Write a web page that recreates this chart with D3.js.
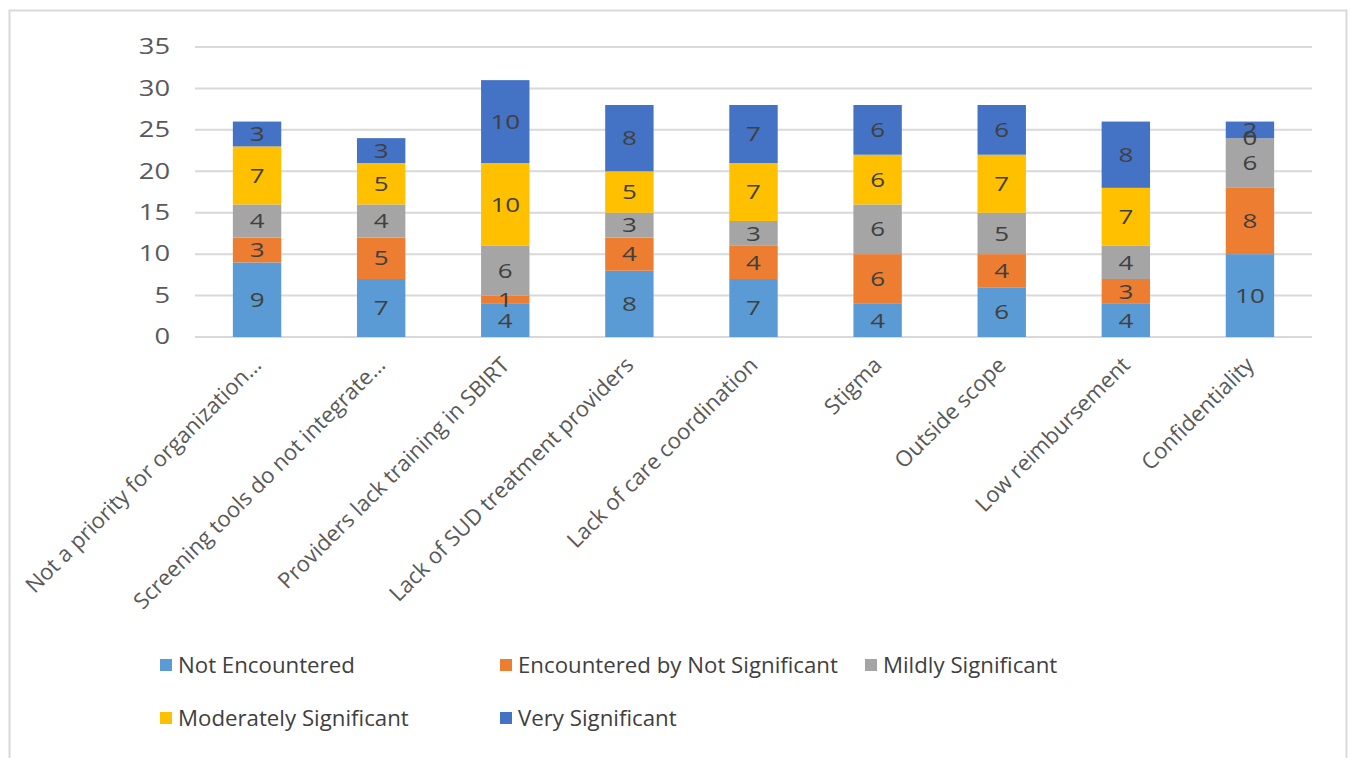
<!DOCTYPE html>
<html>
<head>
<meta charset="utf-8">
<script src="https://cdn.jsdelivr.net/npm/d3@7"></script>
<style>
  html, body { margin: 0; padding: 0; background: #fff; }
  svg { display: block; }
  text { font-family: "Open Sans", "Noto Sans", sans-serif; fill: #595959; }
</style>
</head>
<body>
<svg id="chart" width="1350" height="758"></svg>
<script>
// Barriers to SBIRT implementation, counts per significance level
const categories = [
  "Not a priority for organization\u2026",
  "Screening tools do not integrate\u2026",
  "Providers lack training in SBIRT",
  "Lack of SUD treatment providers",
  "Lack of care coordination",
  "Stigma",
  "Outside scope",
  "Low reimbursement",
  "Confidentiality"
];
const seriesNames = [
  "Not Encountered",
  "Encountered by Not Significant",
  "Mildly Significant",
  "Moderately Significant",
  "Very Significant"
];
const notEncountered       = [9, 7, 4, 8, 7, 4, 6, 4, 10];
const encounteredNotSig    = [3, 5, 1, 4, 4, 6, 4, 3, 8];
const mildlySignificant    = [4, 4, 6, 3, 3, 6, 5, 4, 6];
const moderatelySignificant= [7, 5, 10, 5, 7, 6, 7, 7, 0];
const verySignificant      = [3, 3, 10, 8, 7, 6, 6, 8, 2];
const yTicks = [0, 5, 10, 15, 20, 25, 30, 35];
const colors = ["#5B9BD5", "#ED7D31", "#A5A5A5", "#FFC000", "#4472C4"];

const seriesValues = [notEncountered, encounteredNotSig, mildlySignificant, moderatelySignificant, verySignificant];
const rows = categories.map((c, i) => {
  const r = { category: c };
  seriesNames.forEach((s, k) => { r[s] = seriesValues[k][i]; });
  return r;
});

const svg = d3.select("#chart");

// outer chart frame
svg.append("rect")
  .attr("x", 9.5).attr("y", 10.5)
  .attr("width", 1337).attr("height", 760)
  .attr("fill", "#fff").attr("stroke", "#d9d9d9").attr("stroke-width", 2);

const plot = { left: 195, right: 1312, top: 47, bottom: 337 };

const x = d3.scaleBand().domain(categories).range([plot.left, plot.right]).paddingInner(0.61).paddingOuter(0.305);
const y = d3.scaleLinear().domain([0, 35]).range([plot.bottom, plot.top]);

// gridlines
svg.append("g")
  .selectAll("line").data(yTicks).join("line")
  .attr("x1", plot.left).attr("x2", plot.right)
  .attr("y1", d => y(d)).attr("y2", d => y(d))
  .attr("stroke", "#d9d9d9").attr("stroke-width", 2);

// y axis labels (wide digits)
const yAxis = d3.axisLeft(y).tickValues(yTicks).tickSize(0).tickPadding(0);
const yg = svg.append("g").attr("transform", `translate(${plot.left - 25},0)`).call(yAxis);
yg.select(".domain").remove();
yg.selectAll(".tick text")
  .attr("x", 0)
  .attr("font-size", 21).attr("fill", "#595959")
  .style("font-family", "'Open Sans', sans-serif")
  .attr("transform", "scale(1.3,1)");

const stack = d3.stack().keys(seriesNames);
const stacked = stack(rows);

const layers = svg.append("g").selectAll("g").data(stacked).join("g")
  .attr("fill", (d, i) => colors[i]);

layers.selectAll("rect").data(d => d).join("rect")
  .attr("x", d => x(d.data.category))
  .attr("width", x.bandwidth())
  .attr("y", d => y(d[1]))
  .attr("height", d => y(d[0]) - y(d[1]));

// value labels centred in each segment
const labelG = svg.append("g");
stacked.forEach((layer) => {
  labelG.selectAll(null).data(layer).join("text")
    .attr("transform", d => `translate(${x(d.data.category) + x.bandwidth() / 2},${(y(d[0]) + y(d[1])) / 2}) scale(1.3,1)`)
    .attr("dy", "0.36em")
    .attr("text-anchor", "middle")
    .attr("font-size", 20)
    .style("fill", "#404040")
    .text(d => d.data[layer.key]);
});

// x axis category labels, rotated
const xAxis = d3.axisBottom(x).tickSize(0).tickPadding(0);
const xg = svg.append("g").attr("transform", `translate(0,${plot.bottom})`).call(xAxis);
xg.select(".domain").remove();
xg.selectAll("text")
  .attr("font-size", 22)
  .attr("fill", "#595959")
  .style("font-family", "'Open Sans', sans-serif")
  .attr("text-anchor", "end")
  .attr("dy", "0.35em")
  .attr("y", 0)
  .attr("transform", "translate(0,24) rotate(-45)");

// legend
const legendPos = [
  { x: 160, y: 665 }, { x: 500, y: 665 }, { x: 865, y: 665 },
  { x: 160, y: 718 }, { x: 500, y: 718 }
];
const legend = svg.append("g").selectAll("g").data(seriesNames).join("g")
  .attr("transform", (d, i) => `translate(${legendPos[i].x},${legendPos[i].y})`);
legend.append("rect").attr("x", 0).attr("y", -6).attr("width", 12).attr("height", 12)
  .attr("fill", (d, i) => colors[i]);
legend.append("text")
  .attr("transform", "translate(18,0) scale(1.06,1)")
  .attr("dy", "0.36em")
  .attr("font-size", 21).style("fill", "#404040").text(d => d);
</script>
</body>
</html>
